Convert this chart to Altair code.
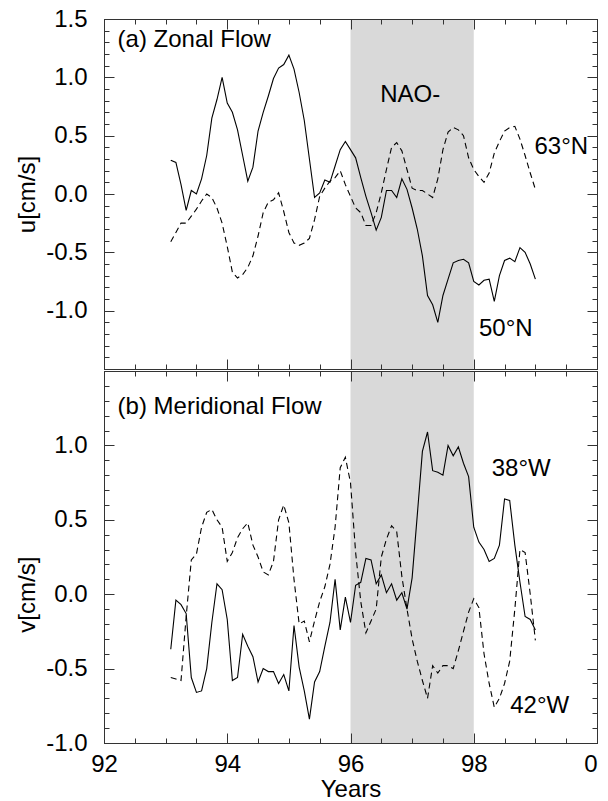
import altair as alt
import pandas as pd

# ---------------- data ----------------
years = [round(93.0 + k / 12.0, 4) for k in range(1, 73)]  # monthly time axis

u_50N = [0.29, 0.27, 0.08, -0.14, 0.03, 0.00, 0.13, 0.33, 0.65, 0.81,
         1.00, 0.78, 0.70, 0.55, 0.33, 0.11, 0.23, 0.54, 0.70, 0.84,
         0.99, 1.08, 1.11, 1.19, 1.07, 0.87, 0.63, 0.30, -0.03, 0.01,
         0.12, 0.10, 0.24, 0.38, 0.45, 0.38, 0.31, 0.14, -0.02, -0.16,
         -0.31, -0.20, 0.03, 0.03, -0.03, 0.13, 0.04, -0.12, -0.30, -0.53,
         -0.87, -0.95, -1.10, -0.87, -0.73, -0.59, -0.57, -0.56, -0.59, -0.75,
         -0.78, -0.74, -0.73, -0.92, -0.70, -0.57, -0.55, -0.58, -0.46, -0.50,
         -0.60, -0.73]

u_63N = [-0.41, -0.33, -0.25, -0.25, -0.19, -0.13, -0.06, 0.00, -0.03, -0.12,
         -0.25, -0.45, -0.67, -0.72, -0.69, -0.63, -0.53, -0.36, -0.16, -0.07,
         -0.05, 0.01, -0.15, -0.33, -0.42, -0.44, -0.42, -0.38, -0.22, -0.02,
         0.05, 0.11, 0.14, 0.20, 0.08, -0.02, -0.12, -0.16, -0.27, -0.27,
         -0.16, 0.01, 0.21, 0.40, 0.44, 0.37, 0.21, 0.05, 0.03, 0.03,
         0.00, -0.03, 0.13, 0.38, 0.53, 0.57, 0.55, 0.50, 0.31, 0.21,
         0.15, 0.10, 0.18, 0.35, 0.45, 0.54, 0.57, 0.58, 0.47, 0.33,
         0.18, 0.04]

v_38W = [-0.37, -0.04, -0.07, -0.13, -0.56, -0.66, -0.65, -0.50, -0.19, 0.07,
         0.03, -0.17, -0.58, -0.56, -0.27, -0.35, -0.42, -0.59, -0.50, -0.52,
         -0.52, -0.60, -0.54, -0.65, -0.21, -0.49, -0.65, -0.84, -0.59, -0.52,
         -0.35, -0.19, 0.10, -0.24, -0.02, -0.19, 0.06, 0.08, 0.24, 0.23,
         0.07, 0.13, 0.01, 0.07, -0.04, 0.01, -0.10, 0.11, 0.53, 0.96,
         1.09, 0.83, 0.82, 0.80, 1.00, 0.93, 0.99, 0.88, 0.79, 0.45,
         0.35, 0.30, 0.22, 0.24, 0.33, 0.64, 0.63, 0.33, 0.08, -0.15,
         -0.17, -0.24]

v_42W = [-0.56, -0.57, -0.58, -0.15, 0.23, 0.27, 0.45, 0.55, 0.57, 0.50,
         0.45, 0.22, 0.28, 0.38, 0.44, 0.48, 0.33, 0.25, 0.15, 0.13,
         0.22, 0.50, 0.60, 0.48, 0.10, -0.20, -0.18, -0.32, -0.18, -0.05,
         0.05, 0.20, 0.45, 0.85, 0.92, 0.75, 0.28, -0.05, -0.26, -0.18,
         -0.10, 0.25, 0.37, 0.46, 0.42, 0.12, -0.10, -0.30, -0.45, -0.58,
         -0.70, -0.48, -0.53, -0.48, -0.48, -0.50, -0.38, -0.25, -0.12, -0.03,
         -0.09, -0.40, -0.60, -0.76, -0.70, -0.60, -0.45, -0.10, 0.30, 0.28,
         0.00, -0.31]

nao_period = [96.0, 98.0]

top_title = "(a) Zonal Flow"
bot_title = "(b) Meridional Flow"
top_labels = ["NAO-", "63°N", "50°N"]
top_label_x = [96.97, 99.42, 98.52]
top_label_y = [0.85, 0.40, -1.16]
bot_labels = ["38°W", "42°W"]
bot_label_x = [98.77, 99.07]
bot_label_y = [0.84, -0.75]

x_major = [92, 94, 96, 98, 100]
x_minor = [92 + 0.5 * i for i in range(17)]

# ---------------- style ----------------
FONT = "Liberation Sans"
FS = 24
W = 493
H_TOP = 350
H_BOT = 372
FRAME = "#333333"
BAND = "#d9d9d9"

xs = alt.Scale(domain=[92, 100], nice=False, zero=False)


def yticks(lo, hi, step):
    n = int(round((hi - lo) / step))
    return [round(lo + i * step, 2) for i in range(n + 1)]


label_expr_y = "(datum.value < 0 ? '-' : '') + format(abs(datum.value), '.1f')"
label_expr_x = "datum.value == 100 ? '00' : format(datum.value, 'd')"


def panel(u_a, u_b, ydom, H, ytitle, title_txt, title_y, labels, lx, ly, bottom):
    ys = alt.Scale(domain=ydom, nice=False, zero=False)
    df = pd.DataFrame({"t": years, "a": u_a, "b": u_b})
    band = alt.Chart(pd.DataFrame({"x0": [nao_period[0]], "x1": [nao_period[1]]})).mark_rect(
        color=BAND).encode(
        x=alt.X("x0:Q", scale=xs, axis=None), x2="x1:Q")
    line_a = alt.Chart(df).mark_line(color="black", strokeWidth=1.1).encode(
        x=alt.X("t:Q", scale=xs, axis=None), y=alt.Y("a:Q", scale=ys, axis=None))
    line_b = alt.Chart(df).mark_line(color="black", strokeWidth=1.1, strokeDash=[6, 4]).encode(
        x=alt.X("t:Q", scale=xs, axis=None), y=alt.Y("b:Q", scale=ys, axis=None))
    tdf = pd.DataFrame({"x": lx, "y": ly, "s": labels})
    txt = alt.Chart(tdf).mark_text(font=FONT, fontSize=FS, color="black",
                                   align="center", baseline="middle").encode(
        x=alt.X("x:Q", scale=xs, axis=None), y=alt.Y("y:Q", scale=ys, axis=None), text="s:N")
    ttl = alt.Chart(pd.DataFrame({"x": [92.22], "y": [title_y], "s": [title_txt]})).mark_text(
        font=FONT, fontSize=FS, color="black", align="left", baseline="middle").encode(
        x=alt.X("x:Q", scale=xs, axis=None), y=alt.Y("y:Q", scale=ys, axis=None), text="s:N")

    y_major = yticks(ydom[0], ydom[1], 0.5)
    y_minor = yticks(ydom[0], ydom[1], 0.1)
    y_lab_vals = [v for v in y_major if -1.0 <= v <= (1.5 if not bottom else 1.0)]

    # invisible carrier marks for the axes (zero size so they do not grow the layout)
    adf = pd.DataFrame({"t": [96.0], "v": [0.0]})
    base = alt.Chart(adf).mark_point(size=0, opacity=0, strokeWidth=0)

    zero_pos = H * (ydom[1] - 0.0) / (ydom[1] - ydom[0])
    if bottom:
        xlab = alt.Axis(orient="bottom", values=x_major, ticks=False, domain=False, grid=False,
                        labelPadding=9, labelFontSize=FS, labelFont=FONT, labelColor="black",
                        labelFlush=False, labelOverlap=False,
                        labelExpr=label_expr_x, title="Years", titleFontSize=FS, titleFont=FONT,
                        titleFontWeight="normal", titleColor="black", titlePadding=1)
    else:
        xlab = None
    ylab = alt.Axis(orient="left", values=y_lab_vals, ticks=False, domain=False, grid=False,
                    labelPadding=17, labelFontSize=FS, labelFont=FONT, labelColor="black",
                    labelExpr=label_expr_y, title=ytitle, titleFontSize=FS, titleFont=FONT,
                    titleFontWeight="normal", titleColor="black", titlePadding=6,
                    titleY=zero_pos)
    layers = [band, line_a, line_b, txt, ttl,
              base.encode(x=alt.X("t:Q", scale=xs, axis=xlab),
                          y=alt.Y("v:Q", scale=ys, axis=ylab))]
    common = dict(grid=False, labels=False, title=None, tickColor=FRAME, tickWidth=1,
                  domainColor=FRAME, domainWidth=1, zindex=2)
    for xo, yo in [("top", "right"), ("bottom", "left")]:
        for vx, vy, size, dom in [(x_minor, y_minor, 5, False), (x_major, y_major, 10, True)]:
            layers.append(base.encode(
                x=alt.X("t:Q", scale=xs, axis=alt.Axis(orient=xo, offset=-H, values=vx,
                                                       tickSize=size, domain=dom, **common)),
                y=alt.Y("v:Q", scale=ys, axis=alt.Axis(orient=yo, offset=-W, values=vy,
                                                       tickSize=size, domain=dom, **common))))
    return alt.layer(*layers).resolve_axis(x="independent", y="independent").properties(
        width=W, height=H)


top = panel(u_50N, u_63N, [-1.5, 1.5], H_TOP, "u[cm/s]", top_title, 1.32,
            top_labels, top_label_x, top_label_y, False)
bot = panel(v_38W, v_42W, [-1.0, 1.5], H_BOT, "v[cm/s]", bot_title, 1.26,
            bot_labels, bot_label_x, bot_label_y, True)

chart = alt.vconcat(top, bot, spacing=0).properties(
    padding={"left": 7, "top": -2, "right": -13, "bottom": 0}
).configure_view(stroke=FRAME, strokeWidth=1).configure(font=FONT, background="white")

chart.save("out.html", embed_options={"renderer": "svg", "actions": False})
